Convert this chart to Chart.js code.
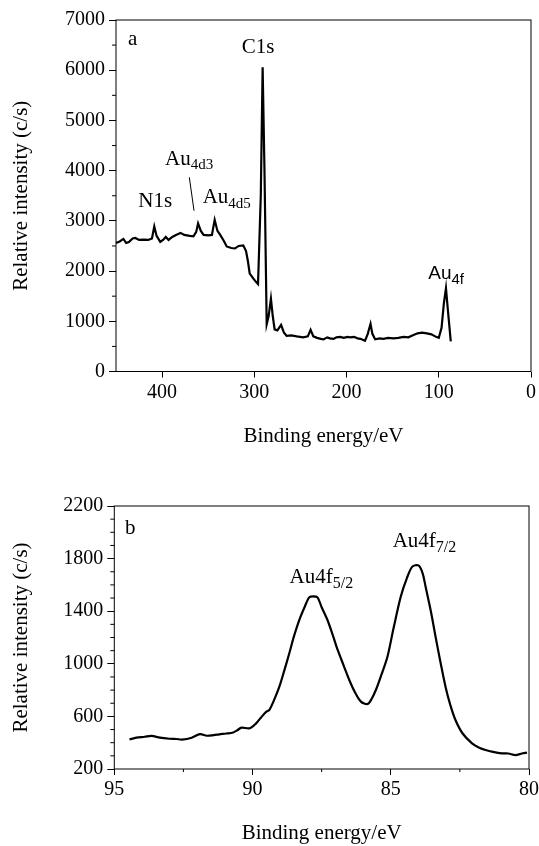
<!DOCTYPE html>
<html lang="en">
<head>
<meta charset="UTF-8">
<title>XPS spectra (a) survey, (b) Au4f</title>
<style>
    body { margin: 0; background: #fff; overflow: hidden; }
    canvas { display: block; }
</style>
</head>
<body>
<canvas id="surveyChart" width="539" height="460"></canvas>
<canvas id="au4fChart" width="539" height="386"></canvas>

<script src="https://cdn.jsdelivr.net/npm/chart.js"></script>
<script>
// (a) survey spectrum
const surveyEnergy = [450, 446, 442, 439, 436, 432, 429, 425, 420, 415, 411, 408.5, 406, 402, 399, 396, 393, 389, 385, 380, 376, 370, 366, 363, 361, 358, 355, 350, 346, 343, 340, 337, 333, 330, 325, 321, 317, 312, 309, 307, 305, 301, 298, 296, 293, 291, 289, 286.6, 284.5, 282, 280, 278, 275, 271, 268, 265, 260, 254, 247, 242, 239, 236, 232, 228, 225, 221, 218, 214, 211, 207, 203, 199, 196, 192, 188, 185, 180, 177, 174, 172, 169, 164, 160, 155, 149, 144, 138, 133, 128, 123, 118, 113, 108, 103, 100, 97, 94.5, 92.2, 90.5, 89, 87];
const surveyIntensity = [2560, 2590, 2640, 2560, 2580, 2650, 2660, 2620, 2625, 2620, 2650, 2890, 2700, 2580, 2620, 2680, 2620, 2680, 2720, 2760, 2720, 2700, 2690, 2780, 2950, 2800, 2720, 2710, 2720, 3020, 2800, 2720, 2600, 2490, 2460, 2450, 2500, 2510, 2400, 2200, 1950, 1850, 1780, 1740, 3500, 6060, 4000, 940, 1100, 1450, 1100, 840, 820, 930, 780, 710, 720, 700, 680, 700, 830, 700, 670, 650, 640, 680, 660, 650, 680, 690, 670, 690, 680, 690, 660, 650, 610, 750, 950, 750, 640, 660, 650, 670, 660, 670, 690, 680, 720, 760, 775, 760, 740, 690, 670, 870, 1350, 1660, 1300, 1000, 600];
const surveyMinorY = [500, 1500, 2500, 3500, 4500, 5500, 6500];

// (b) Au4f region
const au4fEnergy = [94.45, 94.2, 93.9, 93.65, 93.35, 93.0, 92.75, 92.55, 92.2, 91.9, 91.65, 91.4, 91.2, 90.95, 90.7, 90.55, 90.4, 90.1, 89.87, 89.7, 89.5, 89.39, 89.2, 89.03, 88.85, 88.67, 88.5, 88.31, 88.1, 87.95, 87.8, 87.65, 87.5, 87.29, 87.1, 86.92, 86.7, 86.5, 86.3, 86.08, 85.84, 85.7, 85.54, 85.35, 85.12, 84.9, 84.64, 84.42, 84.22, 84.0, 83.85, 83.74, 83.55, 83.38, 83.2, 83.02, 82.85, 82.66, 82.4, 82.06, 81.8, 81.57, 81.3, 80.98, 80.75, 80.49, 80.25, 80.07];
const au4fIntensity = [425, 438, 445, 452, 438, 430, 428, 424, 438, 465, 453, 458, 464, 470, 478, 495, 514, 510, 547, 590, 636, 650, 735, 826, 950, 1080, 1210, 1333, 1440, 1505, 1512, 1505, 1430, 1333, 1220, 1105, 985, 877, 785, 712, 694, 730, 801, 910, 1054, 1270, 1510, 1650, 1739, 1748, 1690, 1586, 1400, 1206, 1010, 826, 690, 573, 470, 395, 362, 344, 330, 319, 318, 306, 318, 324];
const au4fMinorX = [92.5, 87.5, 82.5];
const au4fMinorY = [300, 400, 500, 700, 800, 900, 1100, 1200, 1300, 1500, 1600, 1700, 1900, 2000, 2100];

const serif = "'Liberation Serif', 'Times New Roman', serif";
const sans = "'Liberation Sans', Arial, sans-serif";
Chart.defaults.font.family = serif;
Chart.defaults.color = '#000';

// frame, minor ticks and peak labels (with subscripts)
const framePlugin = {
    id: 'framePlugin',
    afterDraw(chart, args, opts) {
        const ctx = chart.ctx;
        const a = chart.chartArea;
        const xs = chart.scales.x, ys = chart.scales.y;
        ctx.save();
        ctx.strokeStyle = '#000';
        ctx.lineWidth = 1;
        ctx.strokeRect(a.left, a.top, a.right - a.left, a.bottom - a.top);

        ctx.beginPath();
        (opts.minorX || []).forEach(v => {
            const px = xs.getPixelForValue(v);
            ctx.moveTo(px, a.bottom);
            ctx.lineTo(px, a.bottom + 3);
        });
        (opts.minorY || []).forEach(v => {
            const py = ys.getPixelForValue(v);
            ctx.moveTo(a.left, py);
            ctx.lineTo(a.left - 4, py);
        });
        (opts.leaders || []).forEach(l => {
            ctx.moveTo(xs.getPixelForValue(l[0]), ys.getPixelForValue(l[1]));
            ctx.lineTo(xs.getPixelForValue(l[2]), ys.getPixelForValue(l[3]));
        });
        ctx.stroke();

        ctx.fillStyle = '#000';
        ctx.textBaseline = 'alphabetic';
        ctx.textAlign = 'left';
        (opts.labels || []).forEach(l => {
            let px = xs.getPixelForValue(l.x);
            const py = ys.getPixelForValue(l.y);
            l.parts.forEach(([txt, sub]) => {
                ctx.font = sub ? l.subFont : l.font;
                ctx.fillText(txt, px, sub ? py + l.drop : py);
                px += ctx.measureText(txt).width;
            });
        });
        ctx.restore();
    }
};

function axisX(min, max, step, height, titlePad) {
    return {
        type: 'linear', min: min, max: max, reverse: true,
        border: { display: false },
        grid: { drawOnChartArea: false, color: '#000', tickLength: 6 },
        // padding 0 so the edge label does not shrink the plot; lineHeight keeps it low enough
        ticks: { stepSize: step, includeBounds: false, padding: 0, font: { size: 20, lineHeight: 1.5 },
                 callback: v => String(v) },
        title: { display: true, text: 'Binding energy/eV', font: { size: 21 }, padding: { top: 0, bottom: titlePad } },
        afterFit(scale) { scale.height = height; }
    };
}

function axisY(min, max, step, width) {
    return {
        type: 'linear', min: min, max: max,
        border: { display: false },
        grid: { drawOnChartArea: false, color: '#000', tickLength: 7 },
        ticks: { stepSize: step, padding: 4, font: { size: 20 }, callback: v => String(v) },
        title: { display: true, text: 'Relative intensity (c/s)', font: { size: 21 }, padding: { top: 9, bottom: 0 } },
        afterFit(scale) { scale.width = width; }
    };
}

new Chart(document.getElementById('surveyChart'), {
    type: 'scatter',
    data: {
        datasets: [{
            data: surveyEnergy.map((e, i) => ({ x: e, y: surveyIntensity[i] })),
            showLine: true, borderColor: '#000', borderWidth: 2.2,
            pointRadius: 0, tension: 0
        }]
    },
    options: {
        responsive: false,
        animation: false,
        layout: { padding: { left: 0, top: 20, right: 8, bottom: 0 } },
        scales: {
            x: axisX(0, 450, 100, 88.5, 11),
            y: axisY(0, 7000, 1000, 116)
        },
        plugins: {
            legend: { display: false },
            tooltip: { enabled: false },
            framePlugin: {
                minorY: surveyMinorY,
                leaders: [[370.5, 3867, 365.4, 3202]],
                labels: [
                    { x: 437, y: 6502, parts: [['a', false]], font: '21px ' + serif },
                    { x: 313.7, y: 6337, parts: [['C1s', false]], font: '21px ' + serif },
                    { x: 425.8, y: 3282, parts: [['N1s', false]], font: '21px ' + serif },
                    { x: 396.9, y: 4113, parts: [['Au', false], ['4d3', true]], font: '21px ' + serif, subFont: '15px ' + serif, drop: 4.5 },
                    { x: 356, y: 3350, parts: [['Au', false], ['4d5', true]], font: '21px ' + serif, subFont: '15px ' + serif, drop: 4.5 },
                    { x: 111.4, y: 1836, parts: [['Au', false], ['4f', true]], font: '19px ' + sans, subFont: '15px ' + sans, drop: 5 }
                ]
            }
        }
    },
    plugins: [framePlugin]
});

new Chart(document.getElementById('au4fChart'), {
    type: 'scatter',
    data: {
        datasets: [{
            data: au4fEnergy.map((e, i) => ({ x: e, y: au4fIntensity[i] })),
            showLine: true, borderColor: '#000', borderWidth: 2.2,
            pointRadius: 0, tension: 0.3
        }]
    },
    options: {
        responsive: false,
        animation: false,
        layout: { padding: { left: 0, top: 46, right: 10, bottom: 0 } },
        scales: {
            x: axisX(80, 95, 5, 77, 0),
            y: axisY(200, 2200, 400, 114.3)
        },
        plugins: {
            legend: { display: false },
            tooltip: { enabled: false },
            framePlugin: {
                minorX: au4fMinorX,
                minorY: au4fMinorY,
                labels: [
                    { x: 94.61, y: 1987, parts: [['b', false]], font: '21px ' + serif },
                    { x: 88.66, y: 1612, parts: [['Au4f', false], ['5/2', true]], font: '21px ' + serif, subFont: '16px ' + serif, drop: 5 },
                    { x: 84.93, y: 1888, parts: [['Au4f', false], ['7/2', true]], font: '21px ' + serif, subFont: '16px ' + serif, drop: 5 }
                ]
            }
        }
    },
    plugins: [framePlugin]
});
</script>
</body>
</html>
